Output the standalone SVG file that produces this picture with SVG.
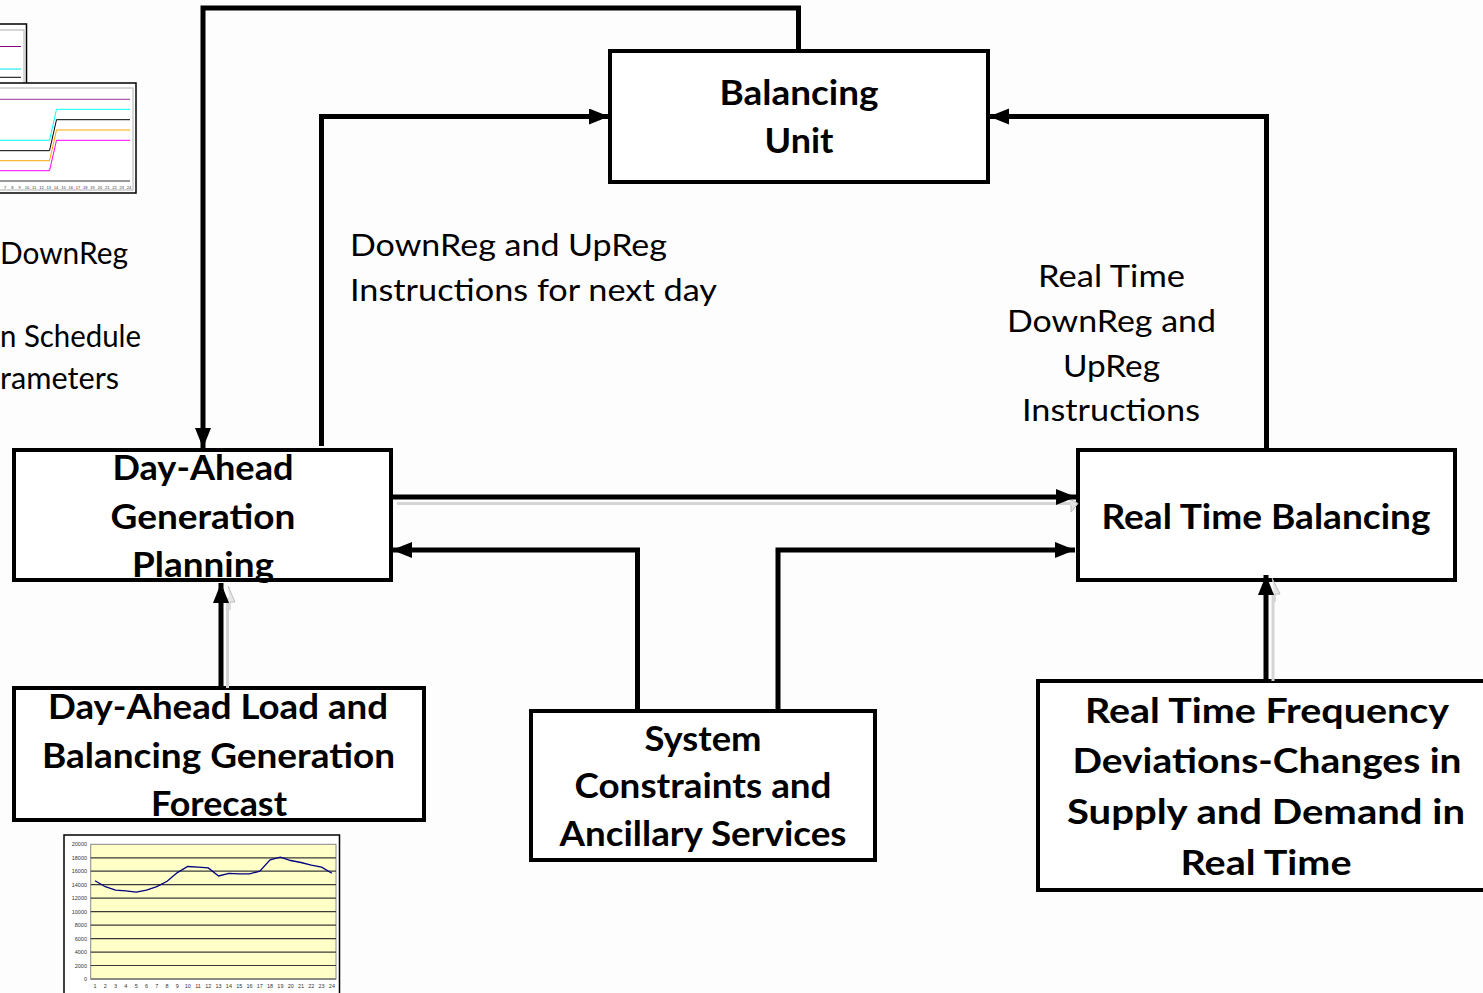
<svg xmlns="http://www.w3.org/2000/svg" width="1483" height="993" viewBox="0 0 1483 993">
  <defs>
    <style>
      .box { fill: #ffffff; stroke: #000000; stroke-width: 4; }
      .conn { fill: none; stroke: #000000; stroke-width: 5; stroke-linejoin: miter; }
      .shadow { fill: none; stroke: #d4d4d4; stroke-width: 3; }
      .bold { font-family: Lato, "Open Sans", "Liberation Sans", sans-serif; font-weight: 700; font-size: 34px; fill: #000000; text-anchor: middle; }
      .reg { font-family: Lato, "Open Sans", "Liberation Sans", sans-serif; font-weight: 400; font-size: 31px; fill: #000000; }
      .tick { font-family: "Liberation Sans", Arial, sans-serif; font-size: 5.5px; fill: #333333; }
      .tick2 { font-family: "Liberation Sans", Arial, sans-serif; font-size: 4px; fill: #333333; text-anchor: middle; }
      .grid { stroke: #3a3a3a; stroke-width: 1.2; }
    </style>
    <marker id="head" markerUnits="userSpaceOnUse" markerWidth="22" markerHeight="18" refX="20" refY="8" orient="auto">
      <path d="M0,0 L20,8 L0,16 z" fill="#000000"/>
    </marker>
  </defs>

  <rect x="0" y="0" width="1483" height="993" fill="#fdfdfd"/>

  <!-- small schedule chart, top left (partly off the page) -->
  <g id="schedule-chart">
    <rect x="-4" y="24" width="30.5" height="62" fill="#ffffff" stroke="#000000" stroke-width="1.5"/>
    <rect x="-4" y="30" width="28" height="56" fill="none" stroke="#b0b0b0" stroke-width="1"/>
    <line x1="0" y1="46.5" x2="21" y2="46.5" stroke="#800080" stroke-width="1"/>
    <line x1="0" y1="69" x2="21" y2="69" stroke="#00e5ee" stroke-width="1"/>
    <line x1="0" y1="77.3" x2="21" y2="77.3" stroke="#000000" stroke-width="1"/>

    <rect x="-4" y="83" width="140" height="110" fill="#ffffff" stroke="#000000" stroke-width="1.5"/>
    <rect x="-4" y="88" width="137" height="102" fill="none" stroke="#b0b0b0" stroke-width="1"/>
    <line x1="0" y1="99.3" x2="130" y2="99.3" stroke="#993399" stroke-width="1"/>
    <polyline points="0,140.3 49.5,140.3 56.5,109.3 130,109.3" fill="none" stroke="#00ffff" stroke-width="1"/>
    <polyline points="0,150.7 49.5,150.7 56.5,119.7 130,119.7" fill="none" stroke="#000000" stroke-width="1"/>
    <polyline points="0,160.7 49.5,160.7 56.5,130 130,130" fill="none" stroke="#ffa500" stroke-width="1"/>
    <polyline points="0,170.7 49.5,170.7 56.5,140.3 130,140.3" fill="none" stroke="#ff00ff" stroke-width="1"/>
    <line x1="0" y1="181" x2="130" y2="181" stroke="#000000" stroke-width="0.8"/>
    <text class="tick2" y="189">
      <tspan x="5">7</tspan><tspan x="12.3">8</tspan><tspan x="19.6">9</tspan><tspan x="26.9">10</tspan><tspan x="34.2">11</tspan><tspan x="41.5">12</tspan><tspan x="48.8">13</tspan><tspan x="56.1">14</tspan><tspan x="63.4">15</tspan><tspan x="70.7">16</tspan><tspan x="78">17</tspan><tspan x="85.3">18</tspan><tspan x="92.6">19</tspan><tspan x="99.9">20</tspan><tspan x="107.2">21</tspan><tspan x="114.5">22</tspan><tspan x="121.8">23</tspan><tspan x="129.1">24</tspan>
    </text>
  </g>

  <!-- left-hand legend text, cut by the page edge -->
  <g id="legend-text">
    <text class="reg" x="0" y="264" textLength="128" lengthAdjust="spacingAndGlyphs">DownReg</text>
    <text class="reg" x="0" y="347" textLength="141" lengthAdjust="spacingAndGlyphs">n Schedule</text>
    <text class="reg" x="0" y="389" textLength="119" lengthAdjust="spacingAndGlyphs">rameters</text>
  </g>

  <!-- load forecast chart under the forecast box -->
  <g id="load-chart">
    <rect x="64" y="835" width="275.5" height="170" fill="#ffffff" stroke="#000000" stroke-width="1.5"/>
    <rect x="90.7" y="844.3" width="245.3" height="134.7" fill="#ffffc8" stroke="#888888" stroke-width="1"/>
    <g class="grid">
      <line x1="90.7" y1="965.5" x2="336" y2="965.5"/>
      <line x1="90.7" y1="952.1" x2="336" y2="952.1"/>
      <line x1="90.7" y1="938.6" x2="336" y2="938.6"/>
      <line x1="90.7" y1="925.1" x2="336" y2="925.1"/>
      <line x1="90.7" y1="911.6" x2="336" y2="911.6"/>
      <line x1="90.7" y1="898.2" x2="336" y2="898.2"/>
      <line x1="90.7" y1="884.7" x2="336" y2="884.7"/>
      <line x1="90.7" y1="871.2" x2="336" y2="871.2"/>
      <line x1="90.7" y1="857.8" x2="336" y2="857.8"/>
    </g>
    <line x1="90.7" y1="979" x2="336" y2="979" stroke="#555555" stroke-width="1"/>
    <polyline fill="none" stroke="#000080" stroke-width="1.3" points="95,880.7 105.3,886.7 115.6,890.1 125.9,890.8 136.2,892.1 146.5,890.1 156.8,886.7 167.1,881.3 177.4,872.6 187.7,866.5 198,867.2 208.3,867.9 218.6,876 228.9,873.3 239.2,873.9 249.5,873.9 259.8,871.2 270.1,859.8 280.4,857.1 290.7,860.5 301,862.5 311.3,865.2 321.6,867.2 331.9,873.3"/>
    <g class="tick" text-anchor="end">
      <text x="87" y="981">0</text>
      <text x="87" y="967.5">2000</text>
      <text x="87" y="954.1">4000</text>
      <text x="87" y="940.6">6000</text>
      <text x="87" y="927.1">8000</text>
      <text x="87" y="913.6">10000</text>
      <text x="87" y="900.2">12000</text>
      <text x="87" y="886.7">14000</text>
      <text x="87" y="873.2">16000</text>
      <text x="87" y="859.8">18000</text>
      <text x="87" y="846.3">20000</text>
    </g>
    <text class="tick" text-anchor="middle" y="988">
      <tspan x="95">1</tspan><tspan x="105.3">2</tspan><tspan x="115.6">3</tspan><tspan x="125.9">4</tspan><tspan x="136.2">5</tspan><tspan x="146.5">6</tspan><tspan x="156.8">7</tspan><tspan x="167.1">8</tspan><tspan x="177.4">9</tspan><tspan x="187.7">10</tspan><tspan x="198">11</tspan><tspan x="208.3">12</tspan><tspan x="218.6">13</tspan><tspan x="228.9">14</tspan><tspan x="239.2">15</tspan><tspan x="249.5">16</tspan><tspan x="259.8">17</tspan><tspan x="270.1">18</tspan><tspan x="280.4">19</tspan><tspan x="290.7">20</tspan><tspan x="301">21</tspan><tspan x="311.3">22</tspan><tspan x="321.6">23</tspan><tspan x="331.9">24</tspan>
    </text>
  </g>

  <!-- nodes -->
  <g id="balancing-unit">
    <rect class="box" x="610" y="51" width="378" height="131"/>
    <text class="bold" x="799" y="105" textLength="159" lengthAdjust="spacingAndGlyphs">Balancing</text>
    <text class="bold" x="799" y="153" textLength="69" lengthAdjust="spacingAndGlyphs">Unit</text>
  </g>

  <g id="day-ahead-planning">
    <rect class="box" x="14" y="450" width="377" height="130"/>
  </g>

  <g id="real-time-balancing">
    <rect class="box" x="1078" y="450" width="377" height="130"/>
    <text class="bold" x="1266" y="529" textLength="329" lengthAdjust="spacingAndGlyphs">Real Time Balancing</text>
  </g>

  <g id="load-forecast">
    <rect class="box" x="14" y="688" width="410" height="132"/>
  </g>

  <g id="system-constraints">
    <rect class="box" x="531" y="711" width="344" height="149"/>
    <text class="bold" x="703" y="751" textLength="117" lengthAdjust="spacingAndGlyphs">System</text>
    <text class="bold" x="703" y="798" textLength="257" lengthAdjust="spacingAndGlyphs">Constraints and</text>
    <text class="bold" x="703" y="846" textLength="287" lengthAdjust="spacingAndGlyphs">Ancillary Services</text>
  </g>

  <g id="frequency-deviations">
    <rect class="box" x="1038" y="681" width="450" height="209"/>
    <text class="bold" x="1267" y="723" textLength="364" lengthAdjust="spacingAndGlyphs">Real Time Frequency</text>
    <text class="bold" x="1267" y="773" textLength="389" lengthAdjust="spacingAndGlyphs">Deviations-Changes in</text>
    <text class="bold" x="1266" y="824" textLength="398" lengthAdjust="spacingAndGlyphs">Supply and Demand in</text>
    <text class="bold" x="1266" y="875" textLength="171" lengthAdjust="spacingAndGlyphs">Real Time</text>
  </g>

  <!-- connectors -->
  <g id="connectors">
    <!-- light under-strokes beside three of the arrows -->
    <line class="shadow" x1="397" y1="503.5" x2="1072" y2="503.5"/>
    <path d="M1068,498 L1078,503.5 L1071,512 L1071,505" fill="#e6e6e6" stroke="#bdbdbd" stroke-width="1"/>
    <line class="shadow" x1="227.5" y1="598" x2="227.5" y2="688"/>
    <path d="M228,586 L235,602 L230,602 L230,610" fill="#e6e6e6" stroke="#bdbdbd" stroke-width="1"/>
    <line class="shadow" x1="1273" y1="592" x2="1273" y2="681"/>
    <path d="M1272,578 L1280,594 L1275,594 L1275,602" fill="#e6e6e6" stroke="#bdbdbd" stroke-width="1"/>

    <path class="conn" d="M798.5,51 L798.5,8 L203,8 L203,448" marker-end="url(#head)"/>
    <path class="conn" d="M321.5,446 L321.5,116.5 L609,116.5" marker-end="url(#head)"/>
    <path class="conn" d="M1266.5,450 L1266.5,116.5 L989,116.5" marker-end="url(#head)"/>
    <path class="conn" d="M391,497 L1076,497" marker-end="url(#head)"/>
    <path class="conn" d="M637.5,711 L637.5,550 L392,550" marker-end="url(#head)"/>
    <path class="conn" d="M778,711 L778,550 L1075,550" marker-end="url(#head)"/>
    <path class="conn" d="M221,688 L221,583" marker-end="url(#head)"/>
    <path class="conn" d="M1266,681 L1266,575" marker-end="url(#head)"/>
  </g>

  <!-- box titles that spill over their frames -->
  <g id="day-ahead-planning-label">
    <text class="bold" x="203" y="480" textLength="181" lengthAdjust="spacingAndGlyphs">Day-Ahead</text>
    <text class="bold" x="203" y="529" textLength="185" lengthAdjust="spacingAndGlyphs">Generation</text>
    <text class="bold" x="203" y="577" textLength="142" lengthAdjust="spacingAndGlyphs">Planning</text>
  </g>
  <g id="load-forecast-label">
    <text class="bold" x="218" y="719" textLength="340" lengthAdjust="spacingAndGlyphs">Day-Ahead Load and</text>
    <text class="bold" x="218.5" y="768" textLength="353" lengthAdjust="spacingAndGlyphs">Balancing Generation</text>
    <text class="bold" x="219" y="816" textLength="136" lengthAdjust="spacingAndGlyphs">Forecast</text>
  </g>

  <!-- connector labels -->
  <g id="labels">
    <text class="reg" x="350" y="256" textLength="317" lengthAdjust="spacingAndGlyphs">DownReg and UpReg</text>
    <text class="reg" x="350" y="301" textLength="367" lengthAdjust="spacingAndGlyphs">Instructions for next day</text>
    <text class="reg" x="1111.5" y="287" text-anchor="middle" textLength="147" lengthAdjust="spacingAndGlyphs">Real Time</text>
    <text class="reg" x="1111.5" y="332" text-anchor="middle" textLength="209" lengthAdjust="spacingAndGlyphs">DownReg and</text>
    <text class="reg" x="1111.5" y="377" text-anchor="middle" textLength="97" lengthAdjust="spacingAndGlyphs">UpReg</text>
    <text class="reg" x="1111" y="421" text-anchor="middle" textLength="178" lengthAdjust="spacingAndGlyphs">Instructions</text>
  </g>
</svg>
